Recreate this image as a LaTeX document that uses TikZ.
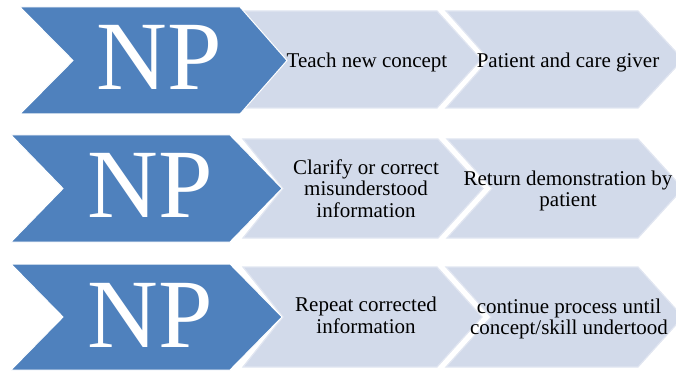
\documentclass[tikz,border=0pt]{standalone}
\usepackage{fontspec}
\setmainfont{Liberation Serif}

\definecolor{npblue}{RGB}{79,129,189}
\definecolor{stepgray}{RGB}{210,218,234}
\definecolor{stepline}{RGB}{225,230,241}

\begin{document}
\begin{tikzpicture}[x=1pt,y=-1pt,
  npshape/.style={fill=npblue,draw=white,line width=1pt},
  stepshape/.style={fill=stepgray,draw=stepline,line width=1.2pt},
  nplabel/.style={text=white,anchor=base,inner sep=0pt,font=\fontsize{98}{98}\selectfont},
  steplabel/.style={align=center,inner sep=0pt,font=\fontsize{21}{21.5}\selectfont}]
\useasboundingbox (0,0) rectangle (676,371);

% light chevrons, drawn first so the blue ones sit on top
\filldraw[stepshape] (446,11) -- (638,11) -- (683,59.5) -- (638,108) -- (446,108) -- (489,59.5) -- cycle;
\filldraw[stepshape] (243,11) -- (437,11) -- (481,59.5) -- (437,108) -- (243,108) -- (283,59.5) -- cycle;
\filldraw[stepshape] (447,139) -- (638,139) -- (683,188.5) -- (638,238) -- (447,238) -- (492,188.5) -- cycle;
\filldraw[stepshape] (243,139) -- (438,139) -- (483,188.5) -- (438,238) -- (243,238) -- (283,188.5) -- cycle;
\filldraw[stepshape] (446,267) -- (638,267) -- (683,317) -- (638,367) -- (446,367) -- (491,317) -- cycle;
\filldraw[stepshape] (243,267) -- (437,267) -- (482,317) -- (437,367) -- (243,367) -- (283,317) -- cycle;

% blue chevrons
\filldraw[npshape] (20,7) -- (240,7) -- (287,60.5) -- (240,114) -- (20,114) -- (73,60.5) -- cycle;
\filldraw[npshape] (11,135) -- (230,135) -- (282,188.5) -- (230,242) -- (11,242) -- (63,188.5) -- cycle;
\filldraw[npshape] (11,264) -- (230,264) -- (282,317) -- (230,370) -- (11,370) -- (63,317) -- cycle;

\node[nplabel] (np1) at (159.5,90) {NP};
\node[nplabel] (np2) at (150,218) {NP};
\node[nplabel] (np3) at (150,347) {NP};

\node[steplabel] (teach) at (367,62) {Teach new concept};
\node[steplabel] (giver) at (568,62) {Patient and care giver};
\node[steplabel] (clarify) at (366,188.5) {Clarify or correct\\misunderstood\\information};
\node[steplabel] (demo) at (568,191) {Return demonstration by\\patient};
\node[steplabel] (repeat) at (366,315.5) {Repeat corrected\\information};
\node[steplabel] (continue) at (569,319) {continue process until\\concept/skill undertood};
\end{tikzpicture}
\end{document}
